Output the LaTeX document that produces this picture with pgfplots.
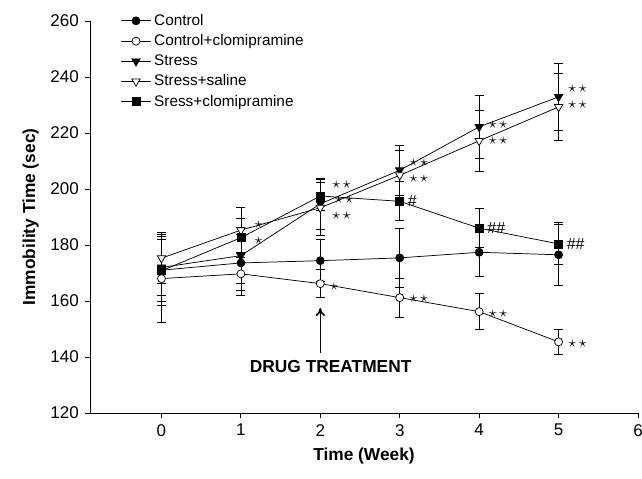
\documentclass[border=0pt]{standalone}
\usepackage{fontspec}
\setmainfont{Liberation Sans}
\usepackage{pgfplots}
\pgfplotsset{compat=1.18}
\usetikzlibrary{arrows.meta}
\begin{document}
\fontsize{12.75}{15}\selectfont
\begin{tikzpicture}
\path[use as bounding box] (-67.5pt,-48.75pt) rectangle (414pt,309.75pt);
\begin{axis}[
  scale only axis, width=411pt, height=294pt,
  xmin=-0.9, xmax=6, ymin=120, ymax=260,
  axis lines=left, axis line style={-, line width=0.6pt},
  xtick={0,1,2,3,4,5,6}, ytick={120,140,...,260},
  tick align=outside, major tick length=4pt,
  tick style={line width=0.6pt, black},
  /pgf/number format/assume math mode=true,
  ticklabel style={font=\fontsize{12.75}{15}\selectfont},
  xlabel={\bfseries Time (Week)}, ylabel={\bfseries Immobility Time (sec)},
  label style={font=\fontsize{13}{15}\selectfont},
  clip=false,
  legend style={at={(axis cs:-0.57,264.5)}, anchor=north west, draw=none, fill=none,
    font=\fontsize{11.5}{13}\selectfont, row sep=1pt},
  legend cell align=left,
  legend image code/.code={\draw[mark repeat=2,mark phase=2] plot coordinates {(0cm,0cm) (0.4cm,0cm) (0.8cm,0cm)};},
  error bars/error mark=-,
  error bars/error bar style={line width=0.55pt, black},
  error bars/error mark options={rotate=90, mark size=3.3pt, line width=0.7pt, black},
]
% Control
\addplot[black, line width=0.55pt, mark=*, mark options={fill=black, mark size=3pt, solid}, error bars/.cd, y dir=both, y explicit]
 table[x=x, y=y, y error=e] {
x y e
0 171.0 11.0
1 173.6 10.0
2 174.4 7.5
3 175.4 10.4
4 177.4 8.5
5 176.5 11.0
};
\addlegendentry{Control}
% Control+clomipramine
\addplot[black, line width=0.55pt, mark=*, mark options={fill=white, mark size=3pt, solid}, error bars/.cd, y dir=both, y explicit]
 table[x=x, y=y, y error=e] {
x y e
0 168.0 15.7
1 169.7 7.8
2 166.2 5.0
3 161.2 7.0
4 156.2 6.5
5 145.4 4.6
};
\addlegendentry{Control+clomipramine}
% Stress
\addplot[black, line width=0.55pt, mark=triangle*, mark options={fill=black, mark size=3.6pt, rotate=180, solid}, error bars/.cd, y dir=both, y explicit]
 table[x=x, y=y, y error=e] {
x y e
0 172.0 10.0
1 176.2 10.0
2 194.7 9.0
3 206.7 9.0
4 222.2 11.3
5 232.9 12.0
};
\addlegendentry{Stress}
% Stress+saline
\addplot[black, line width=0.55pt, mark=triangle*, mark options={fill=white, mark size=3.6pt, rotate=180, solid}, error bars/.cd, y dir=both, y explicit]
 table[x=x, y=y, y error=e] {
x y e
0 175.3 9.0
1 185.3 8.0
2 193.3 10.0
3 204.9 9.0
4 217.2 11.0
5 229.3 12.0
};
\addlegendentry{Stress+saline}
% Sress+clomipramine
\addplot[black, line width=0.55pt, mark=square*, mark options={fill=black, mark size=3pt, solid}, error bars/.cd, y dir=both, y explicit]
 table[x=x, y=y, y error=e] {
x y e
0 170.8 12.3
1 182.6 7.0
2 197.5 5.0
3 195.6 7.0
4 186.0 7.0
5 180.4 7.5
};
\addlegendentry{Sress+clomipramine}
% annotations
\begin{scope}[every node/.style={font=\fontsize{12}{14}\selectfont, anchor=west, inner sep=0pt}]
\node at (axis cs:1.17,187.2) {$\star$};
\node at (axis cs:1.17,181.5) {$\star$};
\node at (axis cs:2.15,201.5) {$\star\,\star$};
\node at (axis cs:2.18,196.0) {$\star\,\star$};
\node at (axis cs:2.15,190.5) {$\star\,\star$};
\node at (axis cs:2.12,165.2) {$\star$};
\node at (axis cs:3.12,209.3) {$\star\,\star$};
\node at (axis cs:3.12,203.6) {$\star\,\star$};
\node at (axis cs:3.12,160.7) {$\star\,\star$};
\node at (axis cs:4.12,222.8) {$\star\,\star$};
\node at (axis cs:4.12,217.1) {$\star\,\star$};
\node at (axis cs:4.12,155.3) {$\star\,\star$};
\node at (axis cs:5.12,235.8) {$\star\,\star$};
\node at (axis cs:5.12,230.2) {$\star\,\star$};
\node at (axis cs:5.12,144.6) {$\star\,\star$};
\end{scope}
\begin{scope}[every node/.style={font=\fontsize{12}{14}\selectfont\rmfamily, anchor=west, inner sep=0pt}]
\node at (axis cs:3.1,195.6) {\#};
\node at (axis cs:4.1,186.0) {\#\#};
\node at (axis cs:5.1,180.4) {\#\#};
\end{scope}
\draw[-{To[length=6pt,width=7pt]}, line width=1.2pt] (axis cs:2,141.5) -- (axis cs:2,157.5);
\node[font=\fontsize{13}{15}\selectfont\bfseries] at (axis cs:2.13,136.5) {DRUG TREATMENT};
\end{axis}
\end{tikzpicture}
\end{document}
